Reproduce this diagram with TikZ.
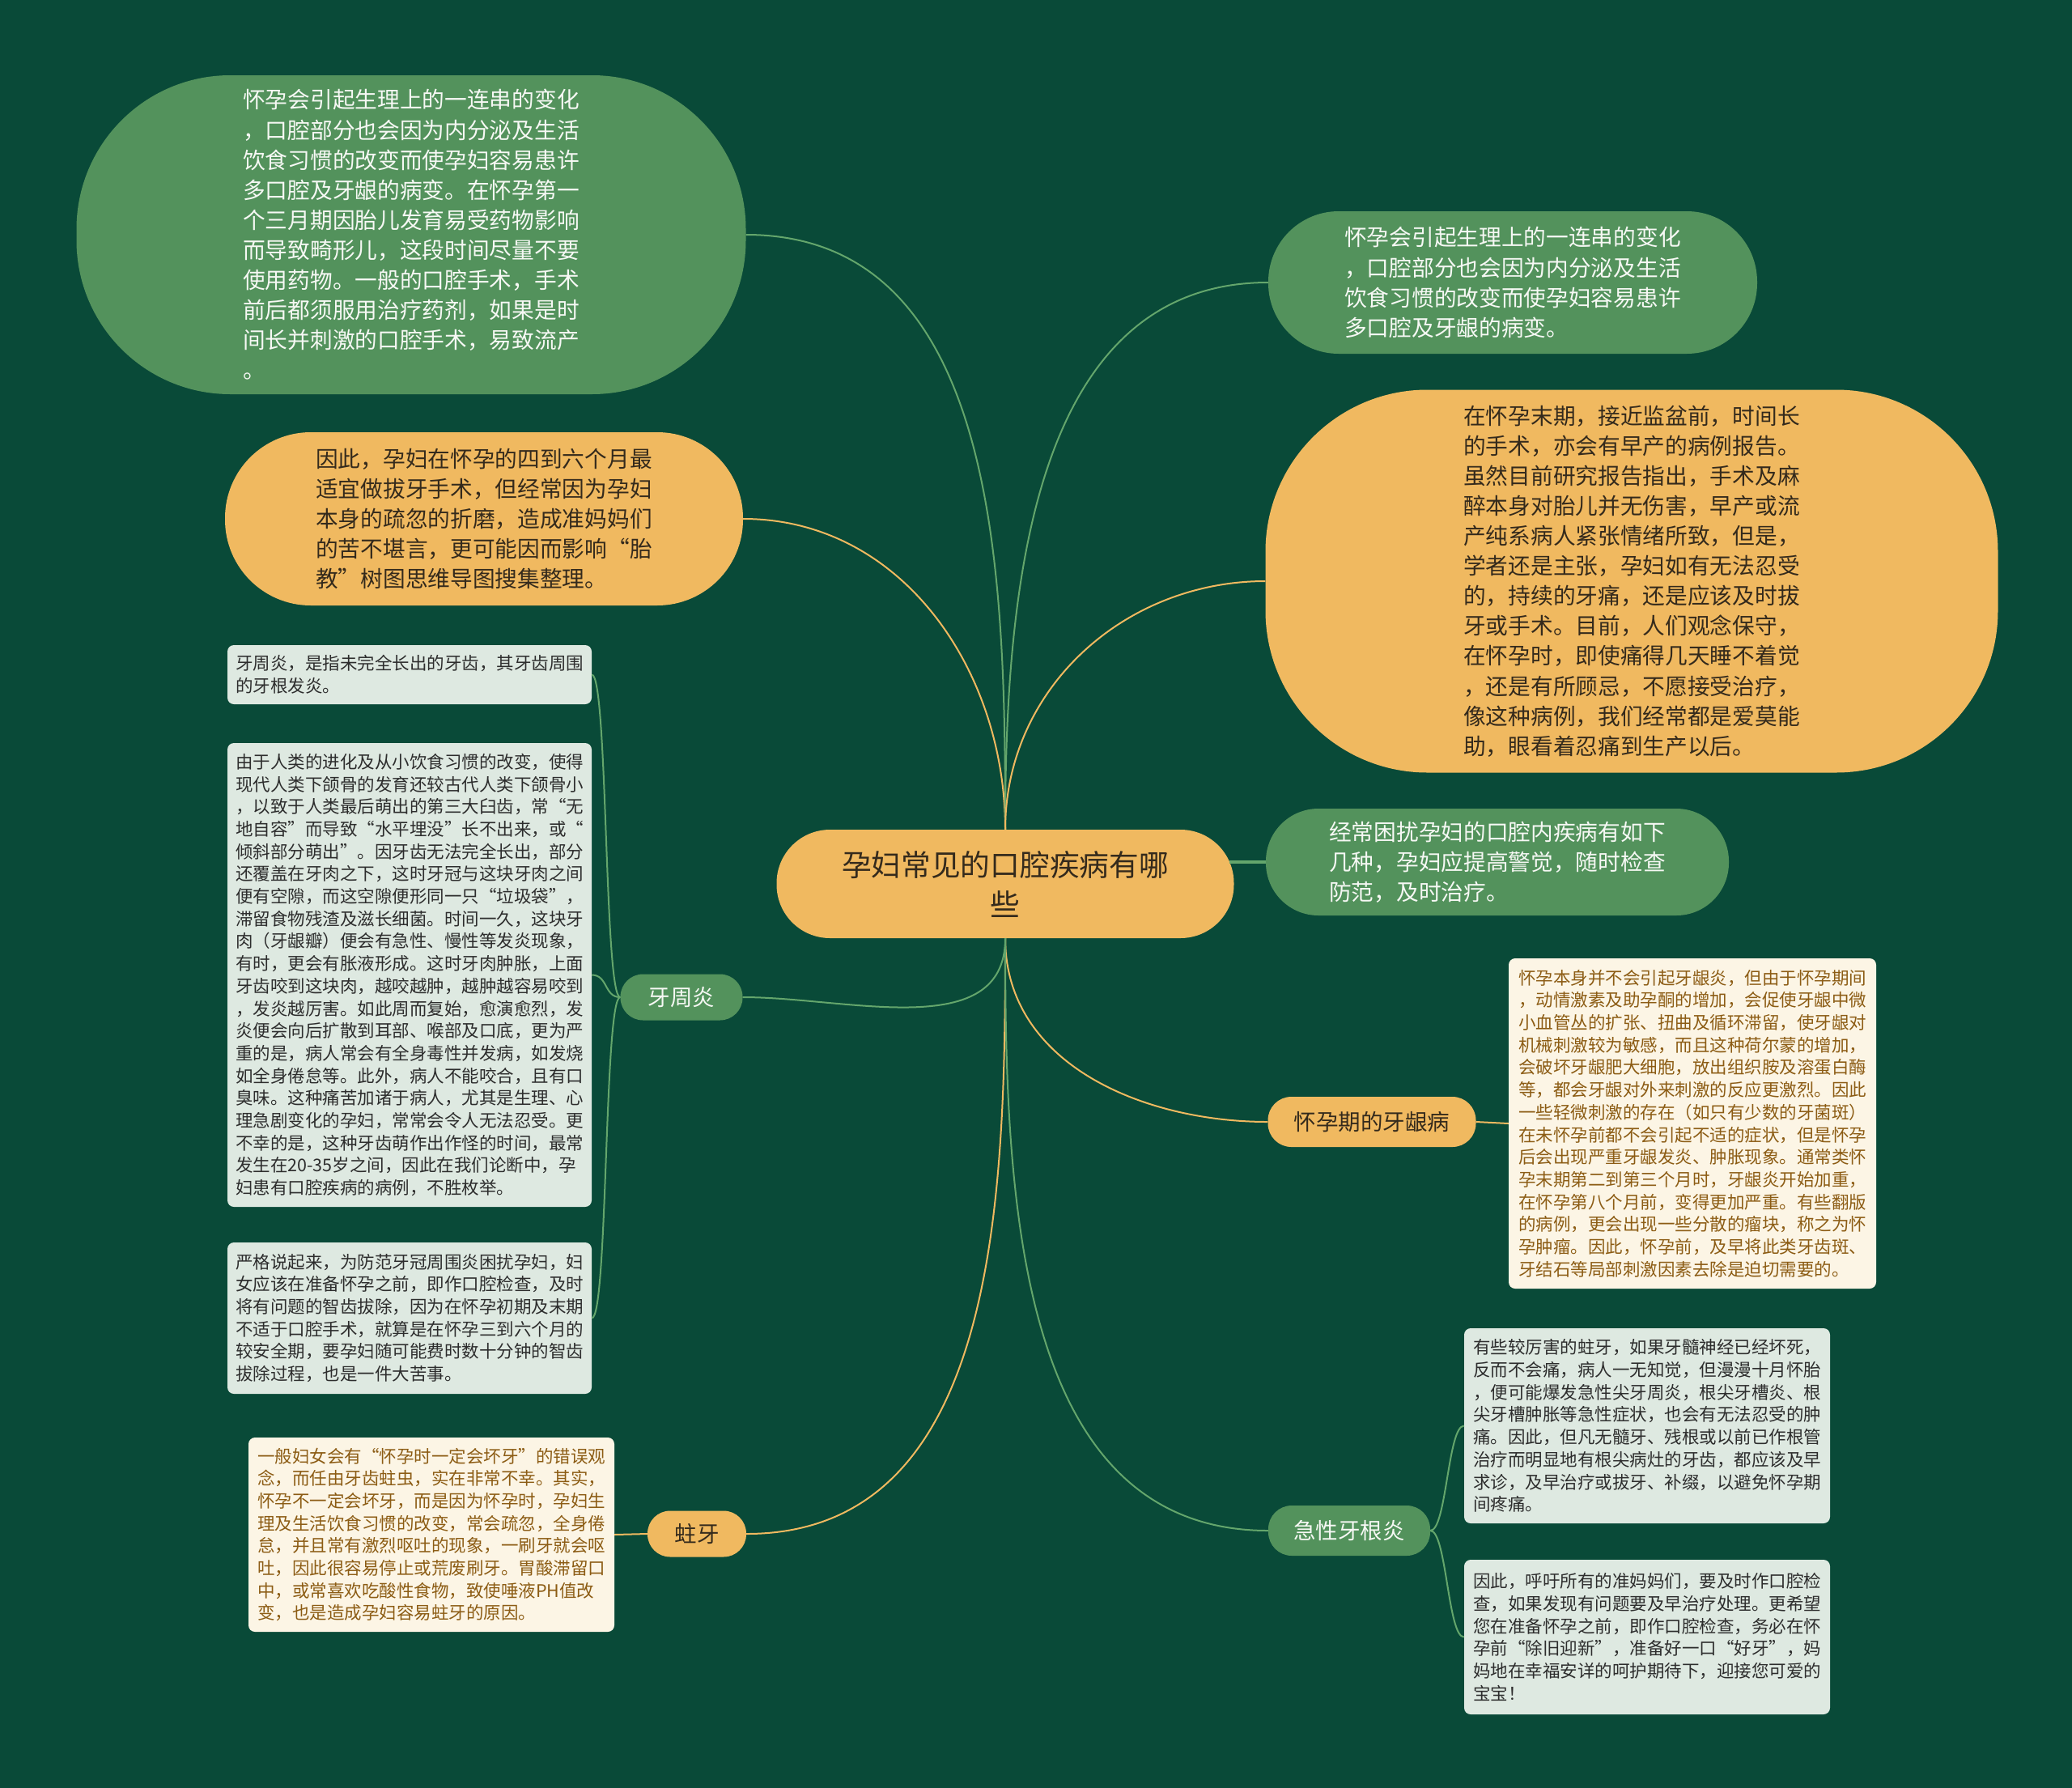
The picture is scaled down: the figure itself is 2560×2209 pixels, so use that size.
\documentclass[tikz,border=0pt]{standalone}
\usepackage{fontspec}
\setmainfont{Noto Sans CJK SC}
\usepackage{tikz}
\usetikzlibrary{positioning}

\definecolor{mapBg}{RGB}{9,74,56}
\definecolor{mapGreen}{RGB}{83,146,92}
\definecolor{mapOrange}{RGB}{240,185,96}
\definecolor{linkGreen}{RGB}{100,166,108}
\definecolor{noteGreen}{RGB}{222,233,225}
\definecolor{noteCream}{RGB}{252,245,229}
\definecolor{textLight}{RGB}{246,248,244}
\definecolor{textDark}{RGB}{52,42,28}
\definecolor{textGray}{RGB}{45,45,45}
\definecolor{textBrown}{RGB}{140,92,20}

\begin{document}
\begin{tikzpicture}[
  x=1pt, y=1pt,
  rootnode/.style={rectangle, fill=mapOrange, text=textDark, rounded corners=66pt, minimum width=565pt, minimum height=134pt, align=center, font=\fontsize{36.7}{49}\selectfont},
  bubble/.style={rectangle, align=left, inner sep=0pt, font=\fontsize{27.7}{37.1}\selectfont},
  greenbubble/.style={bubble, fill=mapGreen, text=textLight},
  orangebubble/.style={bubble, fill=mapOrange, text=textDark},
  topic/.style={rectangle, rounded corners=29pt, minimum height=60pt, inner sep=0pt, font=\fontsize{27.5}{33}\selectfont},
  greentopic/.style={topic, fill=mapGreen, text=textLight},
  orangetopic/.style={topic, fill=mapOrange, text=textDark},
  note/.style={rectangle, rounded corners=8pt, align=left, inner sep=0pt, font=\fontsize{21.5}{27.7}\selectfont},
  greennote/.style={note, fill=noteGreen, text=textGray},
  creamnote/.style={note, fill=noteCream, text=textBrown},
  greenlink/.style={draw=linkGreen, line width=2pt},
  orangelink/.style={draw=mapOrange, line width=2pt}
]

\fill[mapBg] (0,0) rectangle (2560,-2209);

\node[rootnode] (root) at (1242,-1092) {孕妇常见的口腔疾病有哪\\些};

\node[greenbubble, minimum width=827pt, minimum height=394pt, rounded corners=190pt] (early) at (508,-290) {怀孕会引起生理上的一连串的变化\\，口腔部分也会因为内分泌及生活\\饮食习惯的改变而使孕妇容易患许\\多口腔及牙龈的病变。在怀孕第一\\个三月期因胎儿发育易受药物影响\\而导致畸形儿，这段时间尽量不要\\使用药物。一般的口腔手术，手术\\前后都须服用治疗药剂，如果是时\\间长并刺激的口腔手术，易致流产\\。};
\node[orangebubble, minimum width=640pt, minimum height=214pt, rounded corners=106pt] (middle) at (598,-641) {因此，孕妇在怀孕的四到六个月最\\适宜做拔牙手术，但经常因为孕妇\\本身的疏忽的折磨，造成准妈妈们\\的苦不堪言，更可能因而影响“胎\\教”树图思维导图搜集整理。};
\node[greenbubble, minimum width=604pt, minimum height=176pt, rounded corners=87pt] (change) at (1869,-349) {怀孕会引起生理上的一连串的变化\\，口腔部分也会因为内分泌及生活\\饮食习惯的改变而使孕妇容易患许\\多口腔及牙龈的病变。};
\node[orangebubble, minimum width=905pt, minimum height=473pt, rounded corners=200pt] (late) at (2016,-718) {在怀孕末期，接近监盆前，时间长\\的手术，亦会有早产的病例报告。\\虽然目前研究报告指出，手术及麻\\醉本身对胎儿并无伤害，早产或流\\产纯系病人紧张情绪所致，但是，\\学者还是主张，孕妇如有无法忍受\\的，持续的牙痛，还是应该及时拔\\牙或手术。目前，人们观念保守，\\在怀孕时，即使痛得几天睡不着觉\\，还是有所顾忌，不愿接受治疗，\\像这种病例，我们经常都是爱莫能\\助，眼看着忍痛到生产以后。};
\node[greenbubble, minimum width=572pt, minimum height=132pt, rounded corners=65pt] (kinds) at (1850,-1065) {经常困扰孕妇的口腔内疾病有如下\\几种，孕妇应提高警觉，随时检查\\防范，及时治疗。};

\node[greentopic, minimum width=151pt, minimum height=57pt, rounded corners=28pt] (perio) at (842,-1232) {牙周炎};
\node[orangetopic, minimum width=122pt, minimum height=57pt, rounded corners=28pt] (caries) at (861,-1895) {蛀牙};
\node[orangetopic, minimum width=257pt, minimum height=62pt] (gum) at (1695,-1386) {怀孕期的牙龈病};
\node[greentopic, minimum width=200pt, minimum height=62pt] (apical) at (1667,-1891) {急性牙根炎};

\node[greennote, minimum width=450pt, minimum height=73pt] (perioA) at (506,-833.5) {牙周炎，是指未完全长出的牙齿，其牙齿周围\\的牙根发炎。};
\node[greennote, minimum width=450pt, minimum height=573pt] (perioB) at (506,-1204.5) {由于人类的进化及从小饮食习惯的改变，使得\\现代人类下颌骨的发育还较古代人类下颌骨小\\，以致于人类最后萌出的第三大臼齿，常“无\\地自容”而导致“水平埋没”长不出来，或“\\倾斜部分萌出”。因牙齿无法完全长出，部分\\还覆盖在牙肉之下，这时牙冠与这块牙肉之间\\便有空隙，而这空隙便形同一只“垃圾袋”，\\滞留食物残渣及滋长细菌。时间一久，这块牙\\肉（牙龈瓣）便会有急性、慢性等发炎现象，\\有时，更会有胀液形成。这时牙肉肿胀，上面\\牙齿咬到这块肉，越咬越肿，越肿越容易咬到\\，发炎越厉害。如此周而复始，愈演愈烈，发\\炎便会向后扩散到耳部、喉部及口底，更为严\\重的是，病人常会有全身毒性并发病，如发烧\\如全身倦怠等。此外，病人不能咬合，且有口\\臭味。这种痛苦加诸于病人，尤其是生理、心\\理急剧变化的孕妇，常常会令人无法忍受。更\\不幸的是，这种牙齿萌作出作怪的时间，最常\\发生在20-35岁之间，因此在我们论断中，孕\\妇患有口腔疾病的病例，不胜枚举。};
\node[greennote, minimum width=450pt, minimum height=187pt] (perioC) at (506,-1628.5) {严格说起来，为防范牙冠周围炎困扰孕妇，妇\\女应该在准备怀孕之前，即作口腔检查，及时\\将有问题的智齿拔除，因为在怀孕初期及末期\\不适于口腔手术，就算是在怀孕三到六个月的\\较安全期，要孕妇随可能费时数十分钟的智齿\\拔除过程，也是一件大苦事。};
\node[creamnote, minimum width=452pt, minimum height=240pt] (cariesA) at (533,-1896) {一般妇女会有“怀孕时一定会坏牙”的错误观\\念，而任由牙齿蛀虫，实在非常不幸。其实，\\怀孕不一定会坏牙，而是因为怀孕时，孕妇生\\理及生活饮食习惯的改变，常会疏忽，全身倦\\怠，并且常有激烈呕吐的现象，一刷牙就会呕\\吐，因此很容易停止或荒废刷牙。胃酸滞留口\\中，或常喜欢吃酸性食物，致使唾液PH值改\\变，也是造成孕妇容易蛀牙的原因。};
\node[creamnote, minimum width=454pt, minimum height=408pt] (gumA) at (2091,-1388) {怀孕本身并不会引起牙龈炎，但由于怀孕期间\\，动情激素及助孕酮的增加，会促使牙龈中微\\小血管丛的扩张、扭曲及循环滞留，使牙龈对\\机械刺激较为敏感，而且这种荷尔蒙的增加，\\会破坏牙龈肥大细胞，放出组织胺及溶蛋白酶\\等，都会牙龈对外来刺激的反应更激烈。因此\\一些轻微刺激的存在（如只有少数的牙菌斑）\\在未怀孕前都不会引起不适的症状，但是怀孕\\后会出现严重牙龈发炎、肿胀现象。通常类怀\\孕末期第二到第三个月时，牙龈炎开始加重，\\在怀孕第八个月前，变得更加严重。有些翻版\\的病例，更会出现一些分散的瘤块，称之为怀\\孕肿瘤。因此，怀孕前，及早将此类牙齿斑、\\牙结石等局部刺激因素去除是迫切需要的。};
\node[greennote, minimum width=452pt, minimum height=241pt] (apicalA) at (2035,-1761.5) {有些较厉害的蛀牙，如果牙髓神经已经坏死，\\反而不会痛，病人一无知觉，但漫漫十月怀胎\\，便可能爆发急性尖牙周炎，根尖牙槽炎、根\\尖牙槽肿胀等急性症状，也会有无法忍受的肿\\痛。因此，但凡无髓牙、残根或以前已作根管\\治疗而明显地有根尖病灶的牙齿，都应该及早\\求诊，及早治疗或拔牙、补缀，以避免怀孕期\\间疼痛。};
\node[greennote, minimum width=452pt, minimum height=191pt] (apicalB) at (2035,-2022.5) {因此，呼吁所有的准妈妈们，要及时作口腔检\\查，如果发现有问题要及早治疗处理。更希望\\您在准备怀孕之前，即作口腔检查，务必在怀\\孕前“除旧迎新”，准备好一口“好牙”，妈\\妈地在幸福安详的呵护期待下，迎接您可爱的\\宝宝！};

\draw[greenlink] (root.north) to[out=90, in=0] (early.east);
\draw[orangelink] (root.north) to[out=90, in=0] (middle.east);
\draw[greenlink] (root.north) to[out=90, in=180] (change.west);
\draw[orangelink] (root.north) to[out=90, in=180] (late.west);
\draw[greenlink, line width=4pt] ([xshift=-6pt]root.east |- kinds.west) -- (kinds.west);
\draw[greenlink] (root.south) to[out=-90, in=0] (perio.east);
\draw[orangelink] (root.south) to[out=-90, in=0] (caries.east);
\draw[orangelink] (root.south) to[out=-90, in=180] (gum.west);
\draw[greenlink] (root.south) to[out=-90, in=180] (apical.west);

\draw[greenlink] (perio.west) to[out=180, in=0, distance=20pt] (perioA.east);
\draw[greenlink] (perio.west) to[out=180, in=0, distance=20pt] (perioB.east);
\draw[greenlink] (perio.west) to[out=180, in=0, distance=20pt] (perioC.east);
\draw[orangelink] (caries.west) -- (cariesA.east);
\draw[orangelink] (gum.east) -- (gumA.west);
\draw[greenlink] (apical.east) to[out=0, in=180, distance=20pt] (apicalA.west);
\draw[greenlink] (apical.east) to[out=0, in=180, distance=20pt] (apicalB.west);

\end{tikzpicture}
\end{document}
